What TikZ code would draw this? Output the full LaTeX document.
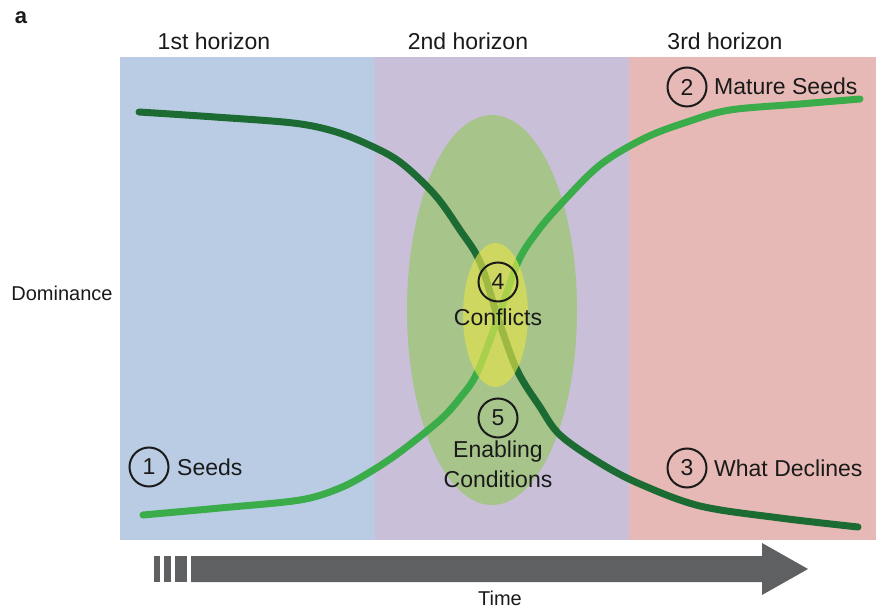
\documentclass[tikz,border=0pt]{standalone}
\usepackage{fontspec}
\setmainfont{Liberation Sans}
\definecolor{pblue}{HTML}{B9CCE4}
\definecolor{ppurple}{HTML}{C9BFD9}
\definecolor{pred}{HTML}{E6B9B6}
\definecolor{ellgreen}{HTML}{A7C48A}
\definecolor{ellyellow}{HTML}{E4E34A}
\definecolor{darkgr}{HTML}{1B6B32}
\definecolor{lightgr}{HTML}{3AAD4A}
\definecolor{arrgray}{HTML}{5F6062}
\definecolor{txt}{HTML}{1A1A1A}
\begin{document}
\begin{tikzpicture}[x=1pt,y=-1pt,
  lbl/.style={font=\fontsize{23}{27}\selectfont,text=txt,inner sep=0pt},
  hdr/.style={font=\fontsize{23}{27}\selectfont,text=txt,inner sep=0pt},
  axis/.style={font=\fontsize{20}{24}\selectfont,text=txt,inner sep=0pt},
  num/.style={circle,draw=txt,line width=2pt,minimum size=39pt,inner sep=0pt,font=\fontsize{23}{27}\selectfont,text=txt},
  curve/.style={line width=7pt,line cap=round}]
\useasboundingbox (0,0) rectangle (876,609);
\fill[white] (0,0) rectangle (876,609);
% panels
\fill[pblue] (120,57) rectangle (375,540);
\fill[ppurple] (375,57) rectangle (629,540);
\fill[pred] (629,57) rectangle (876,540);
% big ellipse
\fill[ellgreen] (492,310) ellipse [x radius=85, y radius=195];
% curves
\draw[curve,darkgr] plot[smooth,tension=0.55] coordinates {(139,112) (215,117) (293,123) (333,131) (367,144) (400,162) (435,195) (460,230) (480,262) (498,318) (517,370) (540,407) (560,435) (600,463) (640,484) (700,506) (780,518) (858,527)};
\draw[curve,lightgr] plot[smooth,tension=0.55] coordinates {(143,515) (220,508) (300,500) (340,488) (370,472) (400,452) (440,420) (460,398) (477,373) (498,318) (518,262) (537,232) (560,205) (600,165) (645,138) (687,122) (730,110) (800,104) (860,99)};
% yellow ellipse
\fill[ellyellow,opacity=0.65] (495.5,315) ellipse [x radius=32.5, y radius=72];
% labels
\node[hdr] (h1) at (214,41) {1st horizon};
\node[hdr] (h2) at (468,41) {2nd horizon};
\node[hdr] (h3) at (725,41) {3rd horizon};
\node[font=\fontsize{22}{26}\selectfont\bfseries,text=txt,inner sep=0pt] (a) at (21,18) {a};
\node[axis] (dom) at (62,293) {Dominance};
\node[axis,anchor=base] (time) at (500,605) {Time};
\node[num] (n1) at (149,467) {1};
\node[lbl,anchor=west] (t1) at (177,467) {Seeds};
\node[num] (n2) at (687,87) {2};
\node[lbl,anchor=west] (t2) at (714,86) {Mature Seeds};
\node[num] (n3) at (687,468) {3};
\node[lbl,anchor=west] (t3) at (714,468) {What Declines};
\node[num] (n4) at (498,282) {4};
\node[lbl] (t4) at (498,317) {Conflicts};
\node[num] (n5) at (498,418) {5};
\node[lbl] (t5a) at (498,452) {Enabling};
\node[lbl] (t5b) at (498,479) {Conditions};
% time arrow
\fill[arrgray] (191,556) -- (762,556) -- (762,543) -- (808,569) -- (762,595) -- (762,582) -- (191,582) -- cycle;
\fill[arrgray] (154,556) rectangle (159.5,582);
\fill[arrgray] (164,556) rectangle (171,582);
\fill[arrgray] (175,556) rectangle (187,582);
\end{tikzpicture}
\end{document}
